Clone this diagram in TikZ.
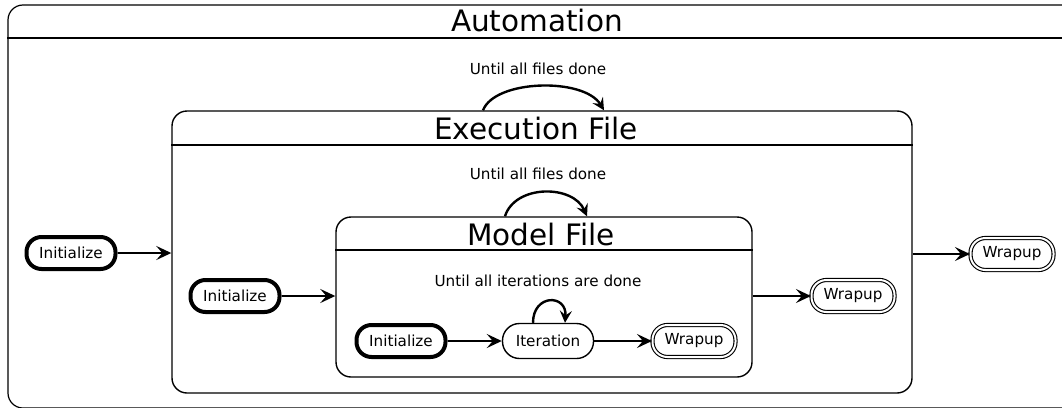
\documentclass[tikz,border=0pt]{standalone}
\usepackage{fontspec}
\setmainfont{DejaVu Sans}
\usetikzlibrary{arrows.meta}
\begin{document}
\begin{tikzpicture}[x=1pt,y=-1pt,
  box/.style={draw, line width=1.4pt, rounded corners=15pt, inner sep=0pt},
  boxtitle/.style={font=\fontsize{29.5}{33}\selectfont, inner sep=0pt},
  lbl/.style={font=\fontsize{15.2}{18}\selectfont, inner sep=0pt},
  st/.style={font=\fontsize{15.2}{18}\selectfont, rounded corners=15pt, minimum height=32pt, inner sep=0pt},
  initst/.style={st, draw, line width=4pt, minimum width=89pt},
  iterst/.style={st, draw, line width=1.4pt, minimum width=91pt, minimum height=35pt, rounded corners=17pt},
  finst/.style={st, draw, double, double distance=2pt, line width=1.1pt, minimum width=83pt},
  arr/.style={-{Stealth[length=15pt,width=14pt,inset=6pt]}, line width=2.4pt},
  selfarr/.style={-{Stealth[length=12pt,width=12pt,inset=4.5pt]}, line width=2.4pt}
]
\useasboundingbox (0,0) rectangle (1062,407);

% boxes
\node[box, line width=1.2pt, minimum width=1082pt, minimum height=403pt] (auto) at (549,206.5) {};
\draw[line width=1.4pt] (auto.west |- 0,38) -- (auto.east |- 0,38);
\node[boxtitle] (autotitle) at (537,21) {Automation};

\node[box, minimum width=740pt, minimum height=282pt] (exec) at (542,252) {};
\draw[line width=1.4pt] (exec.west |- 0,145) -- (exec.east |- 0,145);
\node[boxtitle] (exectitle) at (536,128) {Execution File};

\node[box, minimum width=416pt, minimum height=160pt] (model) at (544,297) {};
\draw[line width=1.4pt] (model.west |- 0,250) -- (model.east |- 0,250);
\node[boxtitle] (modeltitle) at (541,234) {Model File};

% states
\node[initst] (init1) at (71,253) {Initialize};
\node[initst] (init2) at (235,296) {Initialize};
\node[initst] (init3) at (401,341) {Initialize};
\node[iterst] (iter) at (548,341) {Iteration};
\node[finst] (fin3) at (694,341) {Wrapup};
\node[finst] (fin2) at (853,296) {Wrapup};
\node[finst] (fin1) at (1012,254) {Wrapup};

% labels
\node[lbl] (lbl1) at (538,69) {Until all files done};
\node[lbl] (lbl2) at (538,174) {Until all files done};
\node[lbl] (lbl3) at (538,281) {Until all iterations are done};

% transitions
\draw[arr] (init1) -- (init1 -| exec.west);
\draw[arr] (init2) -- (init2 -| model.west);
\draw[arr] (init3) -- (iter);
\draw[arr] (iter) -- (fin3);
\draw[arr] (model.east |- fin2) -- (fin2);
\draw[arr] (exec.east |- fin1) -- (fin1);

% self loops
\draw[selfarr] ([xshift=-59pt]exec.north) .. controls +(12,-31) and +(-20,-33) .. ([xshift=62pt]exec.north);
\draw[selfarr] ([xshift=-39pt]model.north) .. controls +(10,-32) and +(-14,-32) .. ([xshift=43pt]model.north);
\draw[selfarr] ([xshift=-15pt]iter.north) .. controls +(0,-29) and +(2,-29) .. ([xshift=17pt]iter.north);
\end{tikzpicture}
\end{document}
